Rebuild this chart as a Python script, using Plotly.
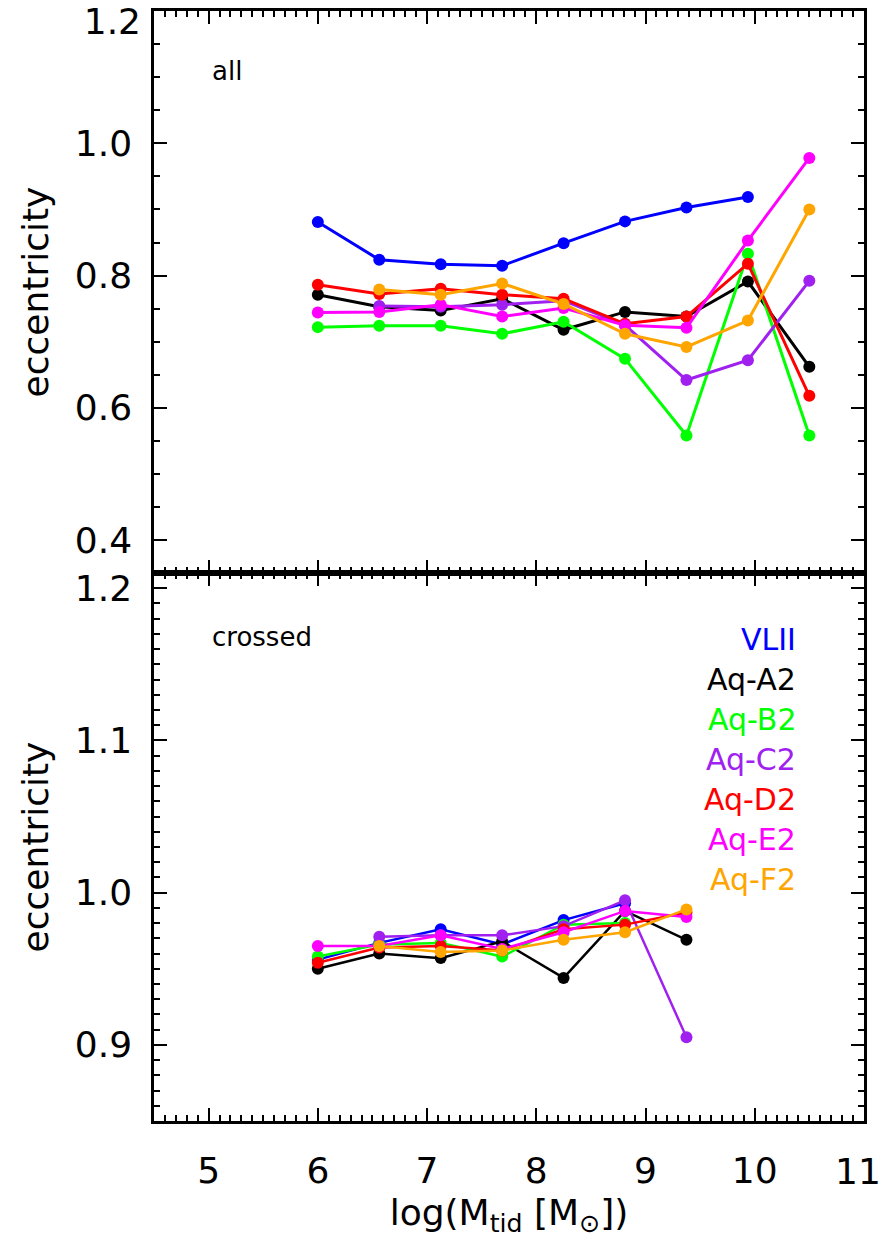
import plotly.graph_objects as go

# ---- data ----
x_bins = [6.0, 6.5625, 7.125, 7.6875, 8.25, 8.8125, 9.375, 9.9375, 10.5]
names = ["VLII", "Aq-A2", "Aq-B2", "Aq-C2", "Aq-D2", "Aq-E2", "Aq-F2"]
colors = ["#0000FF", "#000000", "#00FF00", "#A020F0", "#FF0000", "#FF00FF", "#FFA500"]

all_vlii = [0.881, 0.824, 0.817, 0.815, 0.849, 0.882, 0.903, 0.919, None]
all_a2 = [0.771, 0.753, 0.747, 0.765, 0.718, 0.745, 0.738, 0.791, 0.662]
all_b2 = [0.722, 0.724, 0.724, 0.712, 0.730, 0.674, 0.558, 0.833, 0.558]
all_c2 = [None, 0.754, 0.753, 0.756, 0.762, 0.725, 0.642, 0.672, 0.792]
all_d2 = [0.786, 0.772, 0.780, 0.771, 0.765, 0.727, 0.738, 0.818, 0.618]
all_e2 = [0.744, 0.745, 0.756, 0.738, 0.751, 0.725, 0.721, 0.853, 0.978]
all_f2 = [None, 0.779, 0.771, 0.788, 0.757, 0.712, 0.692, 0.732, 0.900]

cr_vlii = [0.956, 0.967, 0.976, 0.966, 0.982, 0.993, None, None, None]
cr_a2 = [0.950, 0.960, 0.957, 0.968, 0.944, 0.988, 0.969, None, None]
cr_b2 = [0.958, 0.966, 0.967, 0.958, 0.979, 0.980, None, None, None]
cr_c2 = [None, 0.971, 0.972, 0.972, 0.978, 0.995, 0.905, None, None]
cr_d2 = [0.954, 0.964, 0.965, 0.962, 0.976, 0.979, 0.987, None, None]
cr_e2 = [0.965, 0.965, 0.972, 0.963, 0.974, 0.988, 0.984, None, None]
cr_f2 = [None, 0.965, 0.961, 0.962, 0.969, 0.974, 0.989, None, None]

all_series = [all_vlii, all_a2, all_b2, all_c2, all_d2, all_e2, all_f2]
cr_series = [cr_vlii, cr_a2, cr_b2, cr_c2, cr_d2, cr_e2, cr_f2]

x_ticks = [5, 6, 7, 8, 9, 10]
x_ticklabels = ["5", "6", "7", "8", "9", "10"]
x_end_tick = [11]
x_end_ticklabel = ["11"]
y_top_ticks = [0.4, 0.6, 0.8, 1.0]
y_top_ticklabels = ["0.4", "0.6", "0.8", "1.0"]
y_top_end_tick = [1.2]
y_top_end_ticklabel = ["1.2"]
y_bot_ticks = [0.9, 1.0, 1.1, 1.2]
y_bot_ticklabels = ["0.9", "1.0", "1.1", "1.2"]

x_range = [4.5, 11.0005]
y_top_range = [0.35, 1.2003]
y_bot_range = [0.85, 1.21]

FONT = "DejaVu Sans"

fig = go.Figure()
for name, col, ys in zip(names, colors, all_series):
    fig.add_trace(go.Scatter(x=x_bins, y=ys, mode="lines+markers", name=name,
                             line=dict(color=col, width=3),
                             marker=dict(color=col, size=12),
                             xaxis="x", yaxis="y", showlegend=False))
for name, col, ys in zip(names, colors, cr_series):
    fig.add_trace(go.Scatter(x=x_bins, y=ys, mode="lines+markers", name=name,
                             line=dict(color=col, width=2.5),
                             marker=dict(color=col, size=12),
                             xaxis="x2", yaxis="y2", showlegend=False))

# empty traces so the extra tick axes get drawn
for xa, ya in [("x3", "y"), ("x", "y3"), ("x4", "y2"), ("x2", "y4"), ("x", "y5"), ("x5", "y2")]:
    fig.add_trace(go.Scatter(x=[None], y=[None], xaxis=xa, yaxis=ya,
                             showlegend=False, hoverinfo="skip"))

split = 0.4937
TICKFONT = dict(family=FONT, size=36, color="black")


def base(**kw):
    d = dict(showline=True, linecolor="black", linewidth=2.5, mirror=False,
             ticks="inside", ticklen=13, tickwidth=2, tickcolor="black",
             showgrid=False, zeroline=False, ticklabeloverflow="allow", automargin=False,
             tickfont=TICKFONT)
    d.update(kw)
    return d


def label_only(**kw):
    d = dict(ticks="", showline=False, showgrid=False, zeroline=False,
             ticklabeloverflow="allow", automargin=False, tickfont=TICKFONT)
    d.update(kw)
    return d


def minor(dt, t0):
    return dict(dtick=dt, tick0=t0, ticklen=6, tickwidth=2, ticks="inside", tickcolor="black")


ytitle = dict(text="eccentricity", font=dict(family=FONT, size=36), standoff=16)

fig.update_layout(
    width=884, height=1245,
    margin=dict(l=154, r=20, t=11, b=124, autoexpand=False),
    paper_bgcolor="white", plot_bgcolor="white",
    font=dict(family=FONT, color="black"),
    # top panel
    xaxis=base(domain=[0, 1], anchor="y", range=x_range, tickvals=x_ticks + x_end_tick,
               showticklabels=False, minor=minor(0.1, 5)),
    xaxis3=base(domain=[0, 1], anchor="y", overlaying="x", side="top", range=x_range,
                tickvals=x_ticks + x_end_tick, showticklabels=False, minor=minor(0.1, 5)),
    yaxis=base(domain=[split, 1], anchor="x", range=y_top_range,
               tickvals=y_top_ticks + y_top_end_tick, ticktext=y_top_ticklabels + [""],
               ticklabelstandoff=12, minor=minor(0.05, 0.4), title=ytitle),
    yaxis5=label_only(domain=[split, 1], anchor="x", overlaying="y", side="left",
                      range=y_top_range, tickvals=y_top_end_tick, ticktext=y_top_end_ticklabel,
                      ticklabelstandoff=12, ticklabelshift=10),
    yaxis3=base(domain=[split, 1], anchor="x", overlaying="y", side="right", range=y_top_range,
                tickvals=y_top_ticks + y_top_end_tick, showticklabels=False,
                minor=minor(0.05, 0.4)),
    # bottom panel
    xaxis2=base(domain=[0, 1], anchor="y2", range=x_range, tickvals=x_ticks + x_end_tick,
                ticktext=x_ticklabels + [""], ticklabelstandoff=16, minor=minor(0.1, 5),
                title=dict(text="log(M<sub>tid</sub> [M<sub>\u2299</sub>])",
                           font=dict(family=FONT, size=36), standoff=10)),
    xaxis5=label_only(domain=[0, 1], anchor="y2", overlaying="x2", side="bottom",
                      range=x_range, tickvals=x_end_tick, ticktext=x_end_ticklabel,
                      ticklabelstandoff=26, ticklabelshift=-6),
    xaxis4=base(domain=[0, 1], anchor="y2", overlaying="x2", side="top", range=x_range,
                tickvals=x_ticks + x_end_tick, showticklabels=False, minor=minor(0.1, 5)),
    yaxis2=base(domain=[0, split], anchor="x2", range=y_bot_range, tickvals=y_bot_ticks,
                ticktext=y_bot_ticklabels, ticklabelstandoff=12, minor=minor(0.01, 0.9),
                title=ytitle),
    yaxis4=base(domain=[0, split], anchor="x2", overlaying="y2", side="right", range=y_bot_range,
                tickvals=y_bot_ticks, showticklabels=False, minor=minor(0.01, 0.9)),
)

fig.add_annotation(x=5.01, y=1.11, xref="x", yref="y", text="all", showarrow=False,
                   xanchor="left", yanchor="middle", font=dict(family=FONT, size=26, color="black"))
fig.add_annotation(x=5.01, y=1.168, xref="x2", yref="y2", text="crossed", showarrow=False,
                   xanchor="left", yanchor="middle", font=dict(family=FONT, size=26, color="black"))

for i, (name, col) in enumerate(zip(names, colors)):
    fig.add_annotation(x=10.40, y=1.166 - 0.0262 * i, xref="x2", yref="y2", text=name,
                       showarrow=False, xanchor="right", yanchor="middle",
                       font=dict(family=FONT, size=30, color=col))

fig.write_html("out.html")
